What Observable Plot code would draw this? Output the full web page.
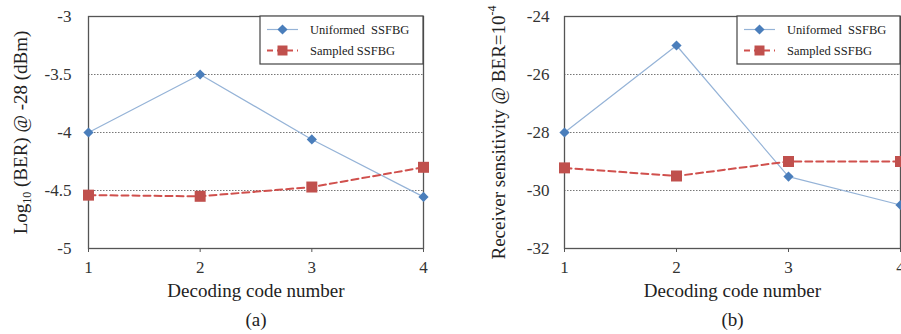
<!DOCTYPE html>
<html><head><meta charset="utf-8">
<script src="https://cdn.jsdelivr.net/npm/d3@7"></script>
<script src="https://cdn.jsdelivr.net/npm/@observablehq/plot@0.6"></script>
<style>
body{margin:0;background:#fff;}
#wrap{display:flex;width:901px;height:334px;overflow:hidden;background:#fff;}
#wrap svg{flex:none;}
</style></head><body><div id="wrap"></div>
<script>
// ---- data ----
const codes = [1, 2, 3, 4];
const seriesNames = ["Uniformed  SSFBG", "Sampled SSFBG"];
const berUniform = [-4.0, -3.5, -4.06, -4.555];
const berSampled = [-4.54, -4.55, -4.47, -4.30];
const sensUniform = [-28.0, -25.0, -29.52, -30.5];
const sensSampled = [-29.22, -29.5, -29.0, -29.0];
const yTicksA = [-3, -3.5, -4, -4.5, -5];
const yTicksB = [-24, -26, -28, -30, -32];
const xTitle = "Decoding code number";
const panelLabels = ["(a)", "(b)"];

// ---- styles ----
const blueLine = "#95b3d7", blueMark = "#4a7ebb";
const redLine = "#d0504d", redMark = "#c0504d";
const FONT = "'Liberation Serif', 'Times New Roman', serif";

function panel({width, marginLeft, marginRight, yDomain, yTicks, uni, sam, yLabelParts, yLabelDx, tickPad, caption}) {
  const H = 334, mt = 16, mb = 86;
  const rowsU = codes.map((c, i) => ({x: c, y: uni[i]}));
  const rowsS = codes.map((c, i) => ({x: c, y: sam[i]}));
  const interior = yTicks.filter(t => t !== yDomain[0] && t !== yDomain[1]);
  const placeholder = "__YLABEL__" + caption;
  const svg = Plot.plot({
    width, height: H, marginLeft, marginRight, marginTop: mt, marginBottom: mb,
    style: {fontFamily: FONT, fontSize: "17px", color: "#333", background: "#fff", overflow: "hidden"},
    x: {domain: [1, 4]},
    y: {domain: yDomain},
    marks: [
      Plot.gridY(interior, {stroke: "#777", strokeOpacity: 1, strokeDasharray: "1.5,1.5"}),
      Plot.axisX({ticks: codes, tickSize: 4, tickPadding: 8, tickFormat: d => String(d), label: null, stroke: "#555"}),
      Plot.axisY({ticks: yTicks, tickSize: 0, tickPadding: tickPad, tickFormat: d => String(d), label: null}),
      Plot.frame({stroke: "#555", strokeWidth: 1.3}),
      Plot.line(rowsU, {x: "x", y: "y", stroke: blueLine, strokeWidth: 1.2}),
      Plot.line(rowsS, {x: "x", y: "y", stroke: redLine, strokeWidth: 2, strokeDasharray: "7,4"}),
      Plot.dot(rowsU, {x: "x", y: "y", symbol: "diamond2", r: 4.6, fill: blueMark, stroke: "none"}),
      Plot.dot(rowsS, {x: "x", y: "y", symbol: "square", r: 6.2, fill: redMark, stroke: "none"}),
      Plot.text([xTitle], {frameAnchor: "bottom", lineAnchor: "middle", textAnchor: "middle", dy: 42, fontSize: 19, fill: "#222"}),
      Plot.text([caption], {frameAnchor: "bottom", lineAnchor: "middle", textAnchor: "middle", dy: 71, fontSize: 19, fill: "#222"}),
      Plot.text([placeholder], {frameAnchor: "left", lineAnchor: "middle", textAnchor: "middle", dx: yLabelDx, rotate: -90, fontSize: 19, fill: "#222"})
    ]
  });
  // rich y label (sub/superscript)
  d3.select(svg).selectAll("text").filter(function() { return this.textContent === placeholder; })
    .each(function() {
      const t = d3.select(this);
      t.text(null);
      yLabelParts.forEach(p => {
        const ts = t.append("tspan").text(p.t);
        if (p.sub) ts.attr("font-size", 12).attr("dy", "0.35em");
        else if (p.sup) ts.attr("font-size", 12).attr("dy", "-0.75em");
        if (p.back) ts.attr("dy", p.back);
      });
    });
  // legend
  const lw = 163, lh = 48;
  const g = d3.select(svg).append("g")
    .attr("transform", `translate(${width - marginRight - lw},${mt})`)
    .attr("font-family", FONT).attr("font-size", 12.5).attr("text-anchor", "start");
  g.append("rect").attr("width", lw).attr("height", lh).attr("fill", "#fff").attr("stroke", "#444").attr("stroke-width", 1.2);
  const ent = [
    {name: seriesNames[0], y: 13.5, line: blueLine, lwid: 1.2, dash: "none", mark: blueMark, sym: d3.symbolDiamond2, size: 66},
    {name: seriesNames[1], y: 34.5, line: redLine, lwid: 2, dash: "6,4", mark: redMark, sym: d3.symbolSquare, size: 100}
  ];
  ent.forEach(e => {
    g.append("path").attr("d", `M7,${e.y}H38`).attr("fill", "none")
      .attr("stroke", e.line).attr("stroke-width", e.lwid).attr("stroke-dasharray", e.dash);
    g.append("path").attr("d", d3.symbol(e.sym, e.size)()).attr("transform", `translate(22.5,${e.y})`).attr("fill", e.mark);
    g.append("text").attr("x", 50).attr("y", e.y).attr("dy", "0.35em").attr("fill", "#222")
      .style("white-space", "pre").text(e.name);
  });
  return svg;
}

const wrap = document.getElementById("wrap");
wrap.append(panel({
  width: 450, marginLeft: 88, marginRight: 27, yDomain: [-5, -3], yTicks: yTicksA,
  uni: berUniform, sam: berSampled, tickPad: 17, caption: panelLabels[0], yLabelDx: -68,
  yLabelParts: [{t: "Log"}, {t: "10", sub: true}, {t: " (BER) @ -28 (dBm)", back: "-0.22em"}]
}));
wrap.append(panel({
  width: 451, marginLeft: 114, marginRight: 1, yDomain: [-32, -24], yTicks: yTicksB,
  uni: sensUniform, sam: sensSampled, tickPad: 15, caption: panelLabels[1], yLabelDx: -66,
  yLabelParts: [{t: "Receiver sensitivity @ BER=10"}, {t: "-4", sup: true}]
}));
</script>
</body></html>
